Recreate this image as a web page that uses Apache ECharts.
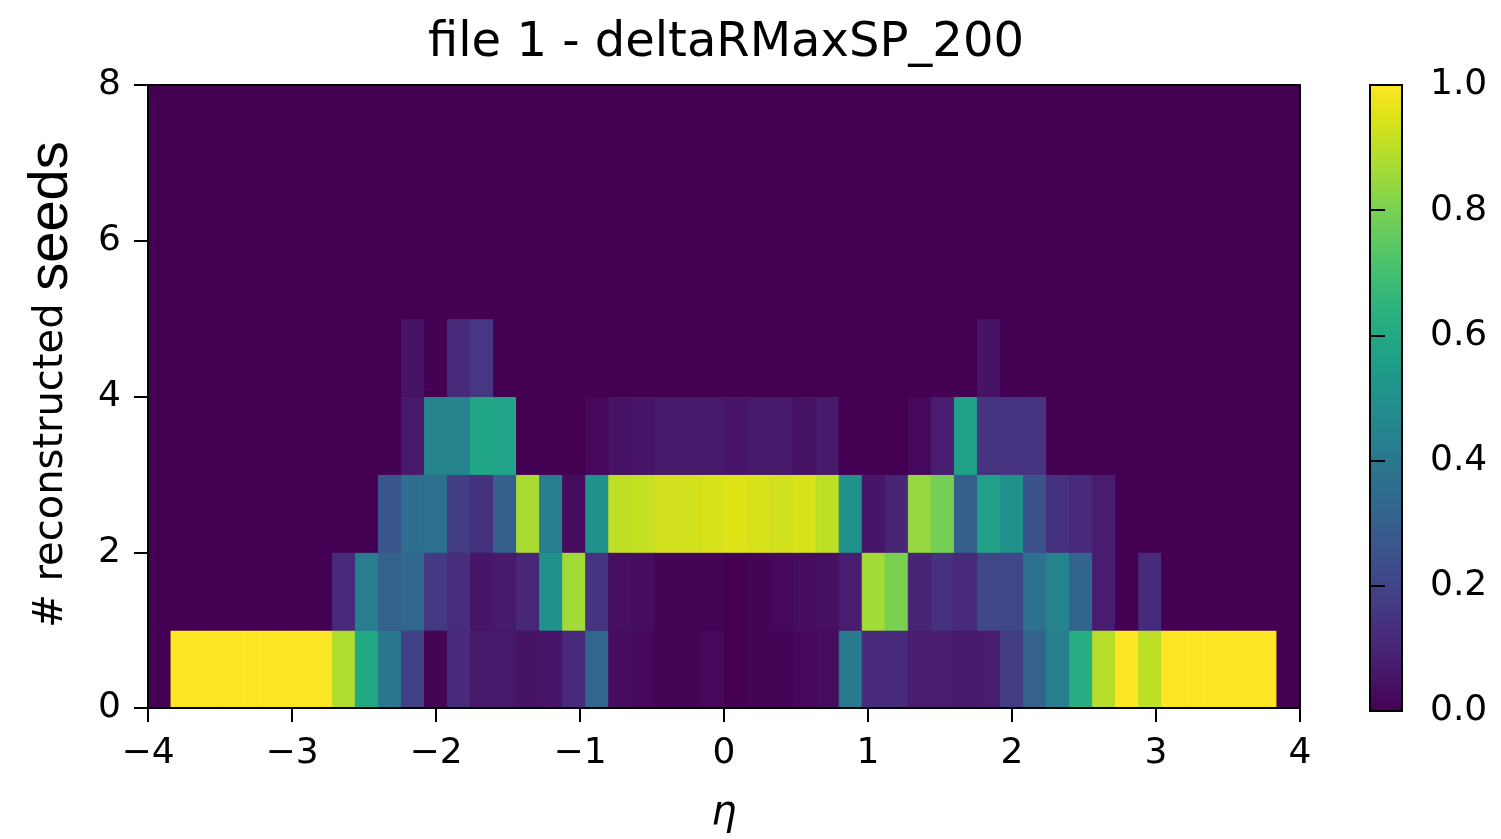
<!DOCTYPE html>
<html>
<head>
<meta charset="utf-8">
<script src="https://cdn.jsdelivr.net/npm/echarts@6/dist/echarts.min.js"></script>
<style>
  html, body { margin: 0; padding: 0; background: #ffffff; }
  #chart { width: 1501px; height: 839px; }
</style>
</head>
<body>
<div id="chart"></div>
<script>
// Binning of the 2D histogram: 50 eta bins over [-4, 4], unit-wide seed-count bins over [0, 8]
const etaMin = -4;
const etaMax = 4;
const etaBinCount = 50;
const seedEdges = [0, 1, 2, 3, 4, 5, 6, 7, 8];

// Fraction of tracks per eta bin for each number of reconstructed seeds
const fracSeeds0 = [0, 1, 1, 1, 1, 1, 1, 1, 0.88, 0.6, 0.4, 0.19, 0.01, 0.12, 0.07, 0.07, 0.05, 0.06, 0.12, 0.33,
  0.03, 0.02, 0.01, 0.01, 0.02, 0.0, 0.01, 0.01, 0.02, 0.03, 0.41, 0.12, 0.12, 0.08, 0.08, 0.07, 0.08, 0.18, 0.31, 0.43,
  0.62, 0.89, 1, 0.9, 1, 1, 1, 1, 1, 0];
const fracSeeds1 = [0, 0, 0, 0, 0, 0, 0, 0, 0.12, 0.42, 0.31, 0.33, 0.17, 0.13, 0.06, 0.07, 0.11, 0.5, 0.86, 0.15,
  0.04, 0.03, 0.01, 0.01, 0.01, 0.0, 0.01, 0.02, 0.03, 0.04, 0.08, 0.86, 0.8, 0.1, 0.14, 0.12, 0.21, 0.21, 0.37, 0.45,
  0.32, 0.08, 0, 0.12, 0, 0, 0, 0, 0, 0];
const fracSeeds2 = [0, 0, 0, 0, 0, 0, 0, 0, 0, 0, 0.26, 0.36, 0.37, 0.18, 0.14, 0.3, 0.87, 0.42, 0.03, 0.5,
  0.9, 0.91, 0.93, 0.93, 0.94, 0.95, 0.94, 0.93, 0.94, 0.9, 0.5, 0.06, 0.1, 0.84, 0.79, 0.3, 0.57, 0.5, 0.25, 0.14,
  0.12, 0.08, 0, 0, 0, 0, 0, 0, 0, 0];
const fracSeeds3 = [0, 0, 0, 0, 0, 0, 0, 0, 0, 0, 0, 0.07, 0.45, 0.45, 0.59, 0.58, 0, 0, 0, 0.02,
  0.05, 0.06, 0.07, 0.07, 0.07, 0.06, 0.07, 0.07, 0.05, 0.07, 0, 0, 0, 0.02, 0.08, 0.57, 0.15, 0.15, 0.15, 0,
  0, 0, 0, 0, 0, 0, 0, 0, 0, 0];
const fracSeeds4 = [0, 0, 0, 0, 0, 0, 0, 0, 0, 0, 0, 0.05, 0, 0.12, 0.16, 0, 0, 0, 0, 0,
  0, 0, 0, 0, 0, 0, 0, 0, 0, 0, 0, 0, 0, 0, 0, 0, 0.05, 0, 0, 0,
  0, 0, 0, 0, 0, 0, 0, 0, 0, 0];
const fracSeeds5 = [0, 0, 0, 0, 0, 0, 0, 0, 0, 0, 0, 0, 0, 0, 0, 0, 0, 0, 0, 0,
  0, 0, 0, 0, 0, 0, 0, 0, 0, 0, 0, 0, 0, 0, 0, 0, 0, 0, 0, 0, 0, 0, 0, 0, 0, 0, 0, 0, 0, 0];
const fracSeeds6 = [0, 0, 0, 0, 0, 0, 0, 0, 0, 0, 0, 0, 0, 0, 0, 0, 0, 0, 0, 0,
  0, 0, 0, 0, 0, 0, 0, 0, 0, 0, 0, 0, 0, 0, 0, 0, 0, 0, 0, 0, 0, 0, 0, 0, 0, 0, 0, 0, 0, 0];
const fracSeeds7 = [0, 0, 0, 0, 0, 0, 0, 0, 0, 0, 0, 0, 0, 0, 0, 0, 0, 0, 0, 0,
  0, 0, 0, 0, 0, 0, 0, 0, 0, 0, 0, 0, 0, 0, 0, 0, 0, 0, 0, 0, 0, 0, 0, 0, 0, 0, 0, 0, 0, 0];

const seedRows = [fracSeeds0, fracSeeds1, fracSeeds2, fracSeeds3, fracSeeds4, fracSeeds5, fracSeeds6, fracSeeds7];

// Tick labels
const etaTicks = [-4, -3, -2, -1, 0, 1, 2, 3, 4];
const seedTicks = [0, 2, 4, 6, 8];
const colorbarTicks = ['0.0', '0.2', '0.4', '0.6', '0.8', '1.0'];

// Viridis colormap
const viridis = ['#440154', '#471365', '#482475', '#463480', '#414487', '#3b528b', '#355f8d', '#2f6c8e',
  '#2a788e', '#25848e', '#21918c', '#1e9c89', '#22a884', '#2fb47c', '#44bf70', '#5ec962', '#7ad151',
  '#9bd93c', '#bddf26', '#dfe318', '#fde725'];

// Build the cell table: [etaLow, etaHigh, seedLow, seedHigh, fraction]
const etaStep = (etaMax - etaMin) / etaBinCount;
const cells = [];
seedRows.forEach((row, r) => {
  row.forEach((v, i) => {
    const lo = Math.round((etaMin + i * etaStep) * 1000) / 1000;
    const hi = Math.round((etaMin + (i + 1) * etaStep) * 1000) / 1000;
    cells.push([lo, hi, seedEdges[r], seedEdges[r + 1], v]);
  });
});

const FONT = 'DejaVu Sans';
const black = '#000000';

const chart = echarts.init(document.getElementById('chart'), null, { renderer: 'canvas' });

const fmtEta = v => (v < 0 ? '\u2212' + Math.abs(v) : String(v));

chart.setOption({
  backgroundColor: '#ffffff',
  animation: false,
  title: {
    text: 'file 1 - deltaRMaxSP_200',
    left: 721,
    textAlign: 'center',
    top: 15,
    textStyle: { fontFamily: FONT, fontSize: 48, fontWeight: 'normal', color: black }
  },
  grid: [
    // plot background carries the colormap's zero colour so empty cells show no seams
    { left: 148, right: 201, top: 85, bottom: 128, show: true, backgroundColor: viridis[0], borderWidth: 0 },
    { left: 1370, width: 32, top: 85, bottom: 128 }
  ],
  visualMap: {
    type: 'continuous',
    show: false,
    min: 0,
    max: 1,
    dimension: 4,
    seriesIndex: 0,
    inRange: { color: viridis }
  },
  xAxis: [
    {
      gridIndex: 0, type: 'value', min: etaMin, max: etaMax, interval: 1, position: 'bottom', z: 10,
      name: '\u03b7', nameLocation: 'middle', nameGap: 86,
      nameTextStyle: { fontFamily: FONT, fontSize: 40, fontStyle: 'italic', color: black },
      axisLine: { show: true, onZero: false, lineStyle: { color: black, width: 2 } },
      axisTick: { show: true, length: 14, lineStyle: { color: black, width: 2 } },
      axisLabel: {
        margin: 28, fontFamily: FONT, fontSize: 36, color: black,
        formatter: v => (etaTicks.includes(v) ? fmtEta(v) : '')
      },
      splitLine: { show: false }
    },
    {
      gridIndex: 1, type: 'value', min: 0, max: 1, show: false
    },
    {
      gridIndex: 0, type: 'value', min: etaMin, max: etaMax, position: 'top', z: 10,
      axisLine: { show: true, onZero: false, lineStyle: { color: black, width: 2 } },
      axisTick: { show: false }, axisLabel: { show: false }, splitLine: { show: false }
    }
  ],
  yAxis: [
    {
      gridIndex: 0, type: 'value', min: 0, max: 8, interval: 2, position: 'left', z: 10,
      name: '{a|# reconstructed }{b|seeds}', nameLocation: 'middle', nameRotate: 90, nameGap: 68,
      nameTextStyle: {
        color: black,
        padding: [0, 0, 0, 24],
        rich: {
          a: { fontFamily: FONT, fontSize: 40, color: black, verticalAlign: 'bottom', padding: [0, 0, 8, 0] },
          b: { fontFamily: 'Liberation Sans', fontSize: 56, color: black, verticalAlign: 'bottom' }
        }
      },
      axisLine: { show: true, onZero: false, lineStyle: { color: black, width: 2 } },
      axisTick: { show: true, length: 14, lineStyle: { color: black, width: 2 } },
      axisLabel: {
        margin: 27, fontFamily: FONT, fontSize: 36, color: black,
        formatter: v => (seedTicks.includes(v) ? String(v) : '')
      },
      splitLine: { show: false }
    },
    {
      gridIndex: 1, type: 'value', min: 0, max: 1, interval: 0.2, position: 'right', z: 10,
      axisLine: { show: false },
      axisTick: { show: true, length: 15, lineStyle: { color: black, width: 2 } },
      axisLabel: {
        margin: 28, fontFamily: FONT, fontSize: 36, color: black,
        formatter: v => colorbarTicks[Math.round(v * 5)]
      },
      splitLine: { show: false }
    },
    {
      gridIndex: 0, type: 'value', min: 0, max: 8, position: 'right', z: 10,
      axisLine: { show: true, onZero: false, lineStyle: { color: black, width: 2 } },
      axisTick: { show: false }, axisLabel: { show: false }, splitLine: { show: false }
    }
  ],
  series: [
    {
      type: 'custom',
      xAxisIndex: 0,
      yAxisIndex: 0,
      encode: { x: [0, 1], y: [2, 3] },
      data: cells,
      renderItem: function (params, api) {
        const p0 = api.coord([api.value(0), api.value(3)]);
        const p1 = api.coord([api.value(1), api.value(2)]);
        const c = api.visual('color');
        return {
          type: 'rect',
          shape: { x: p0[0], y: p0[1], width: p1[0] - p0[0], height: p1[1] - p0[1] },
          style: { fill: c, stroke: c, lineWidth: 1 }
        };
      }
    },
    {
      type: 'custom',
      xAxisIndex: 1,
      yAxisIndex: 1,
      encode: { x: [0, 1], y: [2, 3] },
      data: [[0, 1, 0, 1]],
      renderItem: function (params, api) {
        const p0 = api.coord([api.value(0), api.value(3)]);
        const p1 = api.coord([api.value(1), api.value(2)]);
        const stops = viridis.map((c, i) => ({ offset: i / (viridis.length - 1), color: c }));
        return {
          type: 'rect',
          shape: { x: p0[0], y: p0[1], width: p1[0] - p0[0], height: p1[1] - p0[1] },
          style: {
            fill: new echarts.graphic.LinearGradient(0, 1, 0, 0, stops),
            stroke: black,
            lineWidth: 2
          }
        };
      }
    }
  ]
});
</script>
</body>
</html>
